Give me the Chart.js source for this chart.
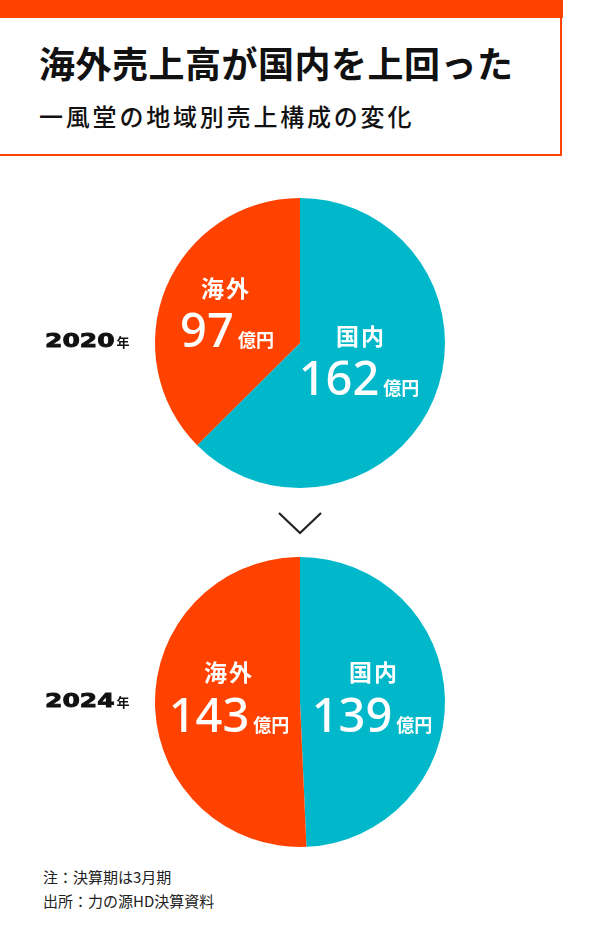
<!DOCTYPE html>
<html lang="ja">
<head>
<meta charset="utf-8">
<script src="https://cdn.jsdelivr.net/npm/chart.js@4.4.1/dist/chart.umd.min.js"></script>
<style>
    html, body { margin: 0; padding: 0; background: #fff; }
    body { width: 600px; height: 947px; position: relative; overflow: hidden;
           font-family: "Noto Sans CJK JP", "Noto Sans", sans-serif; color: #111; }
    .topbar { position: absolute; left: 0; top: 0; width: 563px; height: 18px; background: #ff4200; }
    .header { position: absolute; left: -2px; top: 18px; width: 564px; height: 138px;
              border: 2px solid #ff4200; border-top: none; box-sizing: border-box; }
    .title { position: absolute; left: 39px; top: 23px; font-size: 36px; font-weight: 700;
             letter-spacing: 0.5px; line-height: 1.2; white-space: nowrap; }
    .subtitle { position: absolute; left: 39px; top: 84px; font-size: 24px; font-weight: 500;
                letter-spacing: 2.8px; line-height: 1.2; white-space: nowrap; }
    canvas { position: absolute; left: 0; }
    #pie2020 { top: 198px; }
    #pie2024 { top: 557px; }
    .arrow { position: absolute; left: 278px; top: 511px; }
    .notes { position: absolute; left: 43px; top: 865px; font-size: 15px; line-height: 24px; color: #222; }
</style>
</head>
<body>
<div class="topbar"></div>
<div class="header">
    <div class="title">海外売上高が国内を上回った</div>
    <div class="subtitle">一風堂の地域別売上構成の変化</div>
</div>

<canvas id="pie2020" width="600" height="290"></canvas>
<svg class="arrow" width="44" height="24"><polyline points="1,2 22,22 43,2" fill="none" stroke="#222" stroke-width="2.2"/></svg>
<canvas id="pie2024" width="600" height="290"></canvas>

<div class="notes">注：決算期は3月期<br>出所：力の源HD決算資料</div>

<script>
// data (億円)
const regions = ["国内", "海外"];
const sales2020 = [162, 97];
const sales2024 = [139, 143];
const unit = "億円";
const yearSuffix = "年";

const colors = ["#00b8c9", "#ff4200"];

// label offsets from pie centre, per slice: [nameX, nameY, valueX, valueBaseline]
const labelPos2020 = [[60, -7, 59, 52], [-75, -55, -73, 4]];
const labelPos2024 = [[73, -30, 72, 30], [-72, -30, -71, 30]];

const sliceLabels = {
    id: "sliceLabels",
    afterDatasetsDraw(chart, args, opts) {
        const ctx = chart.ctx;
        const meta = chart.getDatasetMeta(0);
        const cx = meta.data[0].x, cy = meta.data[0].y;
        ctx.save();
        ctx.fillStyle = "#fff";
        meta.data.forEach((arc, i) => {
            const p = opts.pos[i];
            // region name
            ctx.font = "700 23px 'Noto Sans CJK JP'";
            ctx.textAlign = "center";
            ctx.textBaseline = "middle";
            ctx.letterSpacing = "2px";
            ctx.fillText(chart.data.labels[i], cx + p[0] + 1, cy + p[1]);
            ctx.letterSpacing = "0px";
            // value + unit
            const num = String(chart.data.datasets[0].data[i]);
            ctx.font = "500 47px 'Noto Sans'";
            const wNum = ctx.measureText(num).width;
            ctx.font = "700 18px 'Noto Sans CJK JP'";
            const wUnit = ctx.measureText(unit).width;
            const gap = 4;
            let x = cx + p[2] - (wNum + gap + wUnit) / 2;
            ctx.textAlign = "left";
            ctx.textBaseline = "alphabetic";
            ctx.font = "500 47px 'Noto Sans'";
            ctx.fillText(num, x, cy + p[3]);
            ctx.font = "700 18px 'Noto Sans CJK JP'";
            ctx.fillText(unit, x + wNum + gap, cy + p[3]);
        });
        // year label on the left (wide heavy digits)
        ctx.fillStyle = "#111";
        ctx.strokeStyle = "#111";
        ctx.lineWidth = 0.9;
        ctx.textAlign = "left";
        ctx.textBaseline = "alphabetic";
        ctx.font = "700 20px 'DejaVu Sans'";
        const wy = ctx.measureText(opts.year).width;
        const sx = 1.25;
        ctx.save();
        ctx.translate(45, cy + opts.yearDy);
        ctx.scale(sx, 1);
        ctx.fillText(opts.year, 0, 0);
        ctx.strokeText(opts.year, 0, 0);
        ctx.restore();
        ctx.font = "700 13px 'Noto Sans CJK JP'";
        ctx.fillText(yearSuffix, 45 + wy * sx + 2, cy + opts.yearDy);
        ctx.restore();
    }
};

function makePie(id, values, pos, year, yearDy) {
    new Chart(document.getElementById(id), {
        type: "pie",
        data: {
            labels: regions,
            datasets: [{ data: values, backgroundColor: colors, borderWidth: 0 }]
        },
        options: {
            responsive: false,
            animation: false,
            layout: { padding: 0 },
            plugins: {
                legend: { display: false },
                tooltip: { enabled: false },
                sliceLabels: { pos: pos, year: year, yearDy: yearDy }
            }
        },
        plugins: [sliceLabels]
    });
}

makePie("pie2020", sales2020, labelPos2020, "2020", 4);
makePie("pie2024", sales2024, labelPos2024, "2024", 5);
</script>
</body>
</html>
